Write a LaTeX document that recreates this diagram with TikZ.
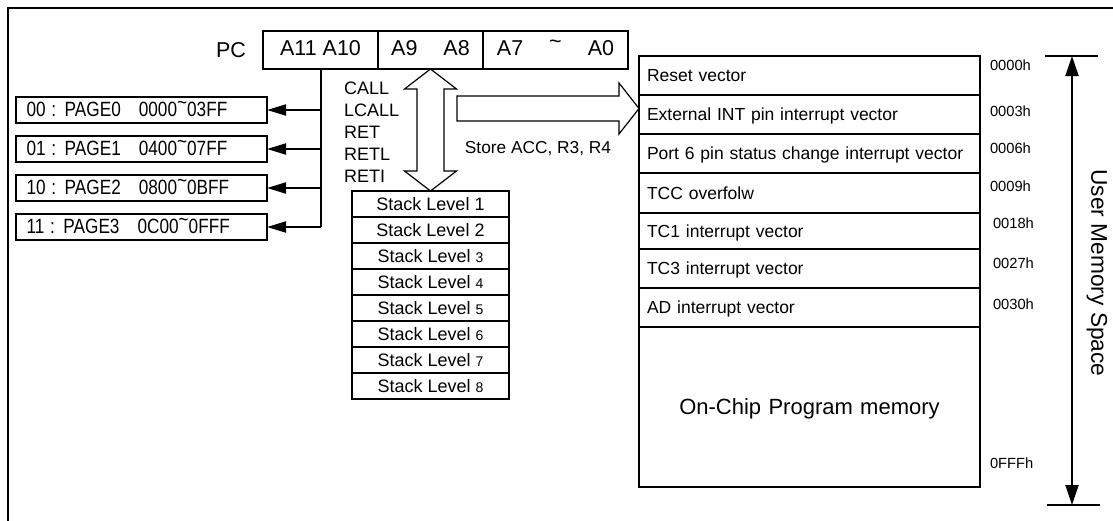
\documentclass[tikz,border=0pt]{standalone}
\usepackage{fontspec}
\usepackage{graphicx}
\setmainfont{Liberation Sans}
\usetikzlibrary{positioning,chains,arrows.meta}

\newcommand{\hitilde}{\raisebox{.32em}{\textasciitilde}}
\newcommand{\lvl}[1]{{\fontsize{14}{14}\selectfont #1}}
\newcommand{\tall}[1]{\scalebox{1}[1.2]{#1}}

\begin{document}
\begin{tikzpicture}[x=1pt,y=-1pt,line width=2pt,
  reg/.style={
    draw,
    outer sep=0pt,
    minimum height=38pt,
    text height=15.4pt,
    text depth=4pt,
    font=\fontsize{21.5}{24}\selectfont
  },
  page/.style={
    draw,
    on chain,
    outer sep=0pt,
    text width=230pt,
    inner xsep=10.5pt,
    inner ysep=0pt,
    minimum height=26pt,
    text height=14.8pt,
    text depth=2pt,
    align=left,
    font=\fontsize{17.2}{20}\selectfont
  },
  stack/.style={
    draw,
    on chain,
    outer sep=0pt,
    minimum width=157pt,
    minimum height=26pt,
    text height=13pt,
    text depth=0pt,
    font=\fontsize{18}{20}\selectfont
  },
  mem/.style={
    draw,
    on chain,
    outer sep=0pt,
    text width=325pt,
    inner xsep=8pt,
    inner ysep=0pt,
    minimum height=39pt,
    text height=15.5pt,
    text depth=3pt,
    align=left,
    font=\fontsize{17.5}{21}\selectfont
  },
  addr/.style={
    anchor=west,
    inner sep=0pt,
    font=\fontsize{14.7}{16}\selectfont
  },
  blockarrow/.style={draw, line width=1.2pt, line join=miter},
  pagetip/.style={-{Triangle[length=19pt,width=11pt]}},
  spantip/.style={{Triangle[length=20pt,width=13pt]}-{Triangle[length=20pt,width=13pt]}}
]
\useasboundingbox (0,0) rectangle (1113,520);
\draw (1120,8.3) -- (7.5,8.3) -- (7.5,530);

% program counter
\node[reg, minimum width=115pt] (ra) at (320.5,50) {A11 A10};
\node[reg, minimum width=105pt, right=0pt of ra] (rb) {A9\hspace{26pt}A8};
\node[reg, minimum width=145pt, right=0pt of rb] (rc) {A7\hspace{26pt}\hitilde\hspace{26pt}A0};
\node[left=16pt of ra, inner sep=0pt, text height=15.4pt, text depth=0pt,
  font=\fontsize{21.5}{24}\selectfont] (pc) {PC};

% pages
\begin{scope}[start chain=pages going below, node distance=13pt]
  \node[page] (p0) at (141.5,110) {\tall{00 : PAGE0\hspace{18pt}0000\hitilde{}03FF}};
  \node[page] (p1) {\tall{01 : PAGE1\hspace{18pt}0400\hitilde{}07FF}};
  \node[page] (p2) {\tall{10 : PAGE2\hspace{18pt}0800\hitilde{}0BFF}};
  \node[page] (p3) {\tall{11 : PAGE3\hspace{18pt}0C00\hitilde{}0FFF}};
\end{scope}

\draw (ra.south) -- (ra.south |- p3.east);
\draw[pagetip] (ra.south |- p0.east) -- (p0.east);
\draw[pagetip] (ra.south |- p1.east) -- (p1.east);
\draw[pagetip] (ra.south |- p2.east) -- (p2.east);
\draw[pagetip] (ra.south |- p3.east) -- (p3.east);

% stack
\begin{scope}[start chain=stk going below, node distance=0pt]
  \node[stack] (s1) at (430.5,204) {Stack Level 1};
  \node[stack] (s2) {Stack Level 2};
  \node[stack] (s3) {Stack Level \lvl{3}};
  \node[stack] (s4) {Stack Level \lvl{4}};
  \node[stack] (s5) {Stack Level \lvl{5}};
  \node[stack] (s6) {Stack Level \lvl{6}};
  \node[stack] (s7) {Stack Level \lvl{7}};
  \node[stack] (s8) {Stack Level \lvl{8}};
\end{scope}

\draw[blockarrow] (rb.south) -- ++(-26,20) -- ++(12.5,0) -- ++(0,82) -- ++(-12.5,0)
  -- (s1.north) -- ++(26,-20) -- ++(-12.5,0) -- ++(0,-82) -- ++(12.5,0) -- cycle;

\node[anchor=west, align=left, inner sep=0pt, font=\fontsize{18}{21.9}\selectfont]
  (ops) at (343,132) {CALL\\LCALL\\RET\\RETL\\RETI};

% program memory
\begin{scope}[start chain=mem going below, node distance=0pt]
  \node[mem] (m0) at (809.5,75.5) {Reset vector};
  \node[mem] (m1) {External INT pin interrupt vector};
  \node[mem] (m2) {Port 6 pin status change interrupt vector};
  \node[mem, minimum height=40pt] (m3) {TCC overfolw};
  \node[mem, minimum height=36pt] (m4) {TC1 interrupt vector};
  \node[mem] (m5) {TC3 interrupt vector};
  \node[mem] (m6) {AD interrupt vector};
  \node[mem, minimum height=160pt, align=center, text height=15.75pt, text depth=0pt,
    font=\fontsize{22}{24}\selectfont] (m7) {On-Chip Program memory};
\end{scope}

\draw[blockarrow] ([yshift=6pt]m1.west) -- ++(-20,-25.5) -- ++(0,13) -- ++(-162,0)
  -- ++(0,25) -- ++(162,0) -- ++(0,13) -- cycle;
\node[font=\fontsize{17.3}{20}\selectfont, text height=12.4pt, text depth=0pt, inner sep=0pt]
  (store) at (538,147.5) {Store ACC, R3, R4};

\node[addr] (a0) at (989,65) {0000h};
\node[addr] (a1) at (989,111) {0003h};
\node[addr] (a2) at (989,148) {0006h};
\node[addr] (a3) at (989,186.5) {0009h};
\node[addr] (a4) at (992,223) {0018h};
\node[addr] (a5) at (992,263) {0027h};
\node[addr] (a6) at (992,304) {0030h};
\node[addr] (a7) at (989,463) {0FFFh};

% user memory span
\coordinate (utop) at (1072,56);
\coordinate (ubot) at (1072,505);
\draw[spantip] (utop) -- (ubot);
\draw ([xshift=-27pt]utop) -- ([xshift=26pt]utop);
\draw ([xshift=-25pt]ubot) -- ([xshift=28pt]ubot);
\node[rotate=-90, font=\fontsize{22.7}{24}\selectfont] (ums) at (1097,273) {User Memory Space};
\end{tikzpicture}
\end{document}
